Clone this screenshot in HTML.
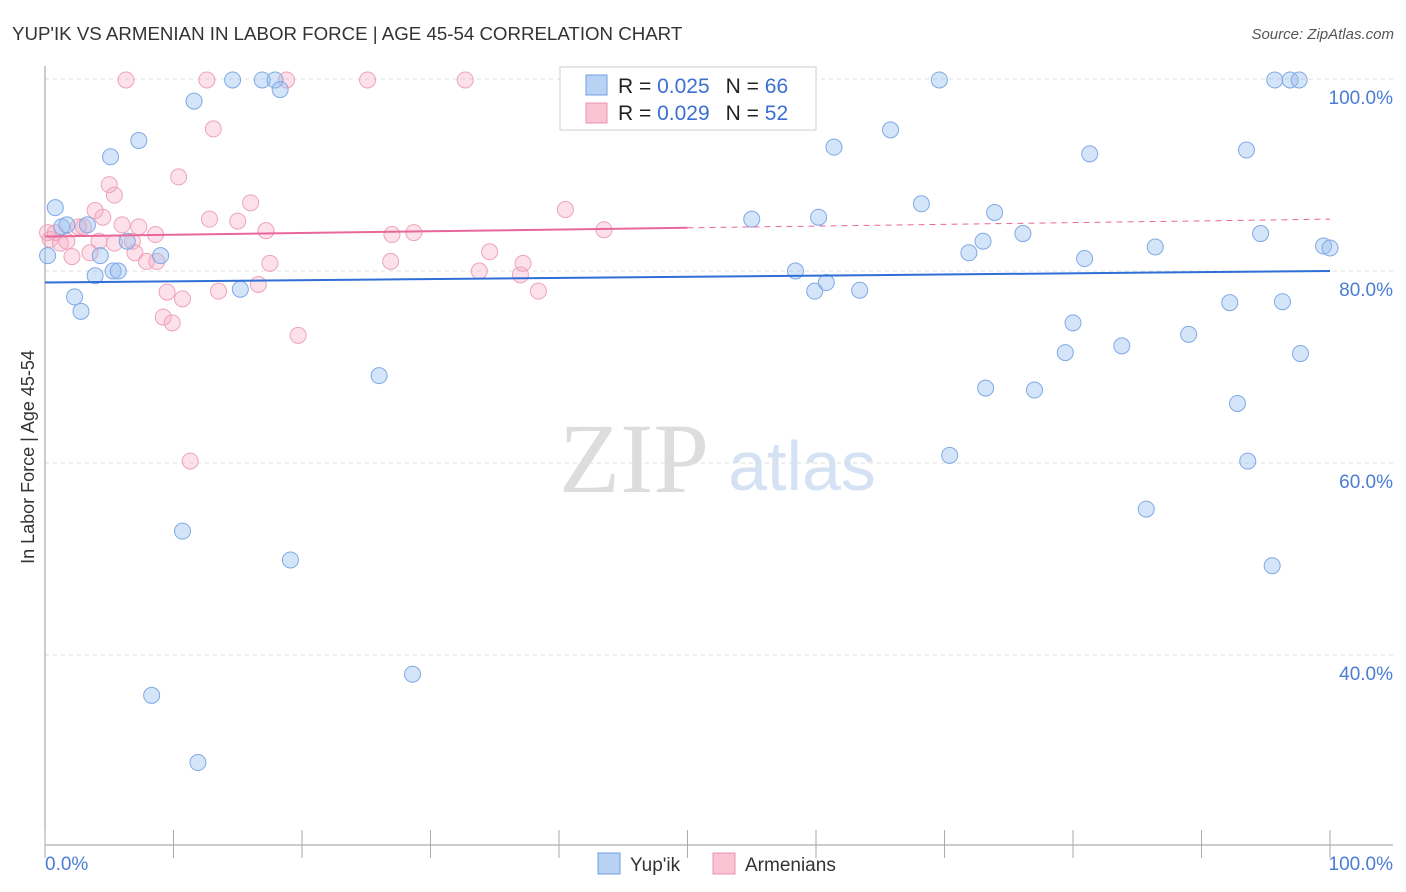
<!DOCTYPE html>
<html><head><meta charset="utf-8"><style>
body{margin:0;background:#fff;font-family:"Liberation Sans",sans-serif;}
svg{display:block}
</style></head><body>
<svg id="c" width="1406" height="892" xmlns="http://www.w3.org/2000/svg">
<text x="12" y="40" font-size="18.7" fill="#333">YUP'IK VS ARMENIAN IN LABOR FORCE | AGE 45-54 CORRELATION CHART</text>
<text x="1394" y="39" font-size="15" fill="#555" text-anchor="end" font-style="italic">Source: ZipAtlas.com</text>
<text transform="translate(34,457) rotate(-90)" font-size="18" fill="#333" text-anchor="middle">In Labor Force | Age 45-54</text>
<text x="634" y="492" font-size="100" fill="#ddd" font-family="Liberation Serif,serif" text-anchor="middle">ZIP</text>
<text x="802" y="490" font-size="70" fill="#d4e2f4" text-anchor="middle">atlas</text>
<g id="grid"></g>
<g id="pts"></g>
<g id="lines"></g>
<rect x="560" y="67" width="256" height="63" fill="#fff" stroke="#ccc"/>
<rect x="586" y="75" width="21" height="20" fill="#b8d2f4" stroke="#6fa0e0"/>
<rect x="586" y="103" width="21" height="20" fill="#f9c5d5" stroke="#ef90ad"/>
<text x="618" y="93" font-size="21" fill="#222">R = <tspan fill="#3b70d0">0.025</tspan><tspan dx="16">N = </tspan><tspan fill="#3b70d0">66</tspan></text>
<text x="618" y="120" font-size="21" fill="#222">R = <tspan fill="#3b70d0">0.029</tspan><tspan dx="16">N = </tspan><tspan fill="#3b70d0">52</tspan></text>
<rect x="598" y="853" width="22" height="21" fill="#b8d2f4" stroke="#6fa0e0"/>
<text x="630" y="871" font-size="19" fill="#333">Yup'ik</text>
<rect x="713" y="853" width="22" height="21" fill="#f9c5d5" stroke="#ef90ad"/>
<text x="745" y="871" font-size="19" fill="#333">Armenians</text>
</svg>
<script>
const blueX=[0.2,0.8,1.3,1.7,2.3,2.8,3.3,3.9,4.3,5.1,5.3,5.7,6.4,7.3,8.3,9.0,10.7,11.6,11.9,14.6,15.2,16.9,17.9,18.3,19.1,26.0,28.6,52.2,55.0,58.4,59.9,60.2,60.8,61.4,63.4,65.8,68.2,69.6,70.4,71.9,73.0,73.2,73.9,76.1,77.0,79.4,80.0,80.9,81.3,83.8,85.7,86.4,89.0,92.2,92.8,93.5,93.6,94.6,95.5,95.7,96.3,96.9,97.6,97.7,99.5,100.0];
const blueY=[81.6,86.6,84.6,84.8,77.3,75.8,84.8,79.5,81.6,91.9,80.0,80.0,83.1,93.6,35.8,81.6,52.9,97.7,28.8,99.9,78.1,99.9,99.9,98.9,49.9,69.1,38.0,99.9,85.4,80.0,77.9,85.6,78.8,92.9,78.0,94.7,87.0,99.9,60.8,81.9,83.1,67.8,86.1,83.9,67.6,71.5,74.6,81.3,92.2,72.2,55.2,82.5,73.4,76.7,66.2,92.6,60.2,83.9,49.3,99.9,76.8,99.9,99.9,71.4,82.6,82.4];
const pinkX=[0.2,0.4,0.8,1.2,1.7,2.1,2.6,3.0,3.5,3.9,4.2,4.5,5.0,5.4,5.4,6.0,6.3,6.8,7.0,7.3,7.9,8.6,8.7,9.2,9.5,9.9,10.4,10.7,11.3,12.6,12.8,13.1,13.5,15.0,16.0,16.6,17.2,17.5,18.8,19.7,25.1,26.9,27.0,28.7,32.7,33.8,34.6,37.0,37.2,38.4,40.5,43.5];
const pinkY=[84.0,83.3,84.0,82.9,83.1,81.5,84.6,84.6,81.9,86.3,83.1,85.6,89.0,87.9,82.9,84.8,99.9,83.1,81.9,84.6,81.0,83.8,81.0,75.2,77.8,74.6,89.8,77.1,60.2,99.9,85.4,94.8,77.9,85.2,87.1,78.6,84.2,80.8,99.9,73.3,99.9,81.0,83.8,84.0,99.9,80.0,82.0,79.6,80.8,77.9,86.4,84.3];
const ticksY=[100,80,60,40];
const ticksYLabels=["100.0%","80.0%","60.0%","40.0%"];
const blueTrend=[78.8,80.0];
const pinkTrend=[83.6,85.4];
const NS="http://www.w3.org/2000/svg";
const sx=v=>45+v*12.85, sy=v=>79+(100-v)*9.6;
function mk(tag,attrs,parent){const e=document.createElementNS(NS,tag);for(const k in attrs)e.setAttribute(k,attrs[k]);parent.appendChild(e);return e;}
const grid=document.getElementById('grid'),pts=document.getElementById('pts'),lines=document.getElementById('lines');
ticksY.forEach((t,i)=>{
 const l=mk('line',{x1:45,x2:1393,y1:sy(t),y2:sy(t),stroke:'#ddd','stroke-dasharray':'4,4'},grid);
 
 
 const tx=mk('text',{x:1393,y:sy(t)+25,'font-size':19,fill:'#4a7dd4','text-anchor':'end'},grid);
 tx.textContent=ticksYLabels[i];
 
 
});
const ax=mk('line',{x1:45,x2:1393,y1:845,y2:845,stroke:'#999'},grid);


const ay=mk('line',{x1:45,x2:45,y1:66,y2:845,stroke:'#999'},grid);


for(let i=0;i<=10;i++){
 const tk=mk('line',{x1:sx(i*10),x2:sx(i*10),y1:830,y2:858,stroke:'#aaa'},grid);
 
 
}
const xl=mk('text',{x:45,y:870,'font-size':19,fill:'#4a7dd4'},grid);xl.textContent='0.0%';


const xr=mk('text',{x:1393,y:870,'font-size':19,fill:'#4a7dd4','text-anchor':'end'},grid);xr.textContent='100.0%';


pinkX.forEach((x,i)=>{
 const c=mk('circle',{cx:sx(x),cy:sy(pinkY[i]),r:8,fill:'rgba(246,170,195,0.35)',stroke:'#eea3bb','stroke-width':1},pts);
 
 
});
blueX.forEach((x,i)=>{
 const c=mk('circle',{cx:sx(x),cy:sy(blueY[i]),r:8,fill:'rgba(150,190,240,0.4)',stroke:'#7fa9e4','stroke-width':1},pts);
 
 
});
const bl=mk('line',{x1:sx(0),y1:sy(blueTrend[0]),x2:sx(100),y2:sy(blueTrend[1]),stroke:'#2f6fd6','stroke-width':2},lines);


const pm=pinkTrend[0]+(pinkTrend[1]-pinkTrend[0])*0.5;
const pl=mk('line',{x1:sx(0),y1:sy(pinkTrend[0]),x2:sx(50),y2:sy(pm),stroke:'#e8679a','stroke-width':2},lines);


const pd=mk('line',{x1:sx(50),y1:sy(pm),x2:sx(100),y2:sy(pinkTrend[1]),stroke:'#e8679a','stroke-width':1,'stroke-dasharray':'6,5'},lines);


</script>
</body></html>
